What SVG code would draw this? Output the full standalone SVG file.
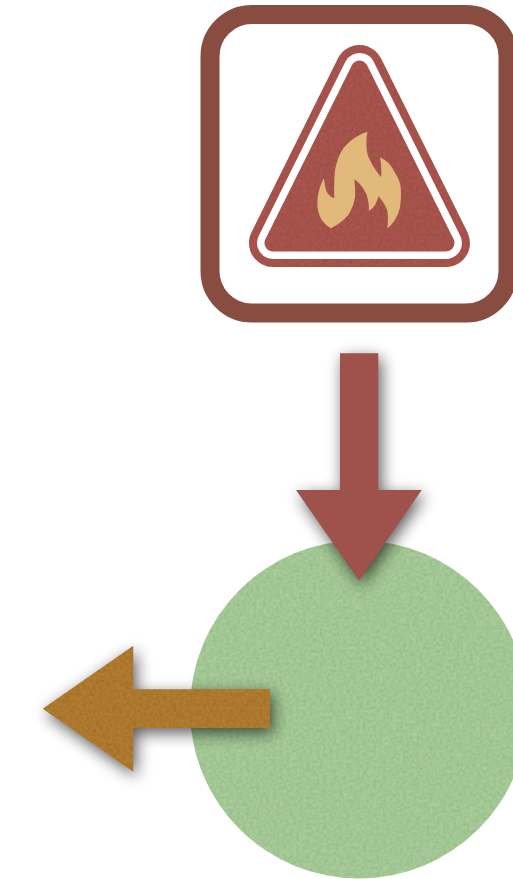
<svg xmlns="http://www.w3.org/2000/svg" width="513" height="879" viewBox="0 0 513 879">
<style>
.tri{stroke-linejoin:round}
</style>
<defs>
<filter id="tex" filterUnits="userSpaceOnUse" x="0" y="0" width="513" height="879" color-interpolation-filters="sRGB">
<feTurbulence type="fractalNoise" baseFrequency="0.3" numOctaves="3" seed="4" result="n"/>
<feColorMatrix in="n" type="matrix" values="0 0 0 0 0  0 0 0 0 0  0 0 0 0 0  0.16 0 0 0 -0.05" result="d"/>
<feGaussianBlur in="d" stdDeviation="0.6" result="db"/>
<feComposite in="db" in2="SourceAlpha" operator="in" result="dd"/>
<feMerge><feMergeNode in="SourceGraphic"/><feMergeNode in="dd"/></feMerge>
</filter>
<filter id="arrowfx" filterUnits="userSpaceOnUse" x="0" y="600" width="320" height="220" color-interpolation-filters="sRGB">
<feTurbulence type="fractalNoise" baseFrequency="0.3" numOctaves="3" seed="7" result="n"/>
<feColorMatrix in="n" type="matrix" values="0 0 0 0 0  0 0 0 0 0  0 0 0 0 0  0.22 0 0 0 -0.07" result="d"/>
<feGaussianBlur in="d" stdDeviation="0.6" result="db"/>
<feComposite in="db" in2="SourceAlpha" operator="in" result="dd"/>
<feGaussianBlur in="SourceAlpha" stdDeviation="8"/>
<feOffset dx="3" dy="5"/>
<feComponentTransfer result="sh"><feFuncA type="linear" slope="0.65"/></feComponentTransfer>
<feMerge><feMergeNode in="sh"/><feMergeNode in="SourceGraphic"/><feMergeNode in="dd"/></feMerge>
</filter>
<filter id="arrowfx2" filterUnits="userSpaceOnUse" x="250" y="310" width="220" height="320" color-interpolation-filters="sRGB">
<feGaussianBlur in="SourceAlpha" stdDeviation="8"/>
<feOffset dx="3" dy="5"/>
<feComponentTransfer result="sh"><feFuncA type="linear" slope="0.65"/></feComponentTransfer>
<feMerge><feMergeNode in="sh"/><feMergeNode in="SourceGraphic"/></feMerge>
</filter>
</defs>
<g id="node-pool">
<circle cx="359" cy="709.5" r="169" fill="#a8cd99" filter="url(#tex)"/>
</g>
<g id="node-hazard">
<rect x="210" y="14.5" width="298" height="298.5" rx="42" ry="42" fill="#fff" stroke="#894c40" stroke-width="19"/>
<path class="tri" d="M359.5 69L273 243H446Z" fill="#aa554d" stroke="#aa554d" stroke-width="48" filter="url(#tex)"/>
<path class="tri" d="M359.5 69L273 243H446Z" fill="#fff" stroke="#fff" stroke-width="32"/>
<path class="tri" d="M359.5 69L273 243H446Z" fill="#aa554d" stroke="#aa554d" stroke-width="17" filter="url(#tex)"/>
<path fill="#e0b97b" d="M367.3 131.7C366 142 365.5 152 370 160C373 167 377 172 381 177.3C382 171 381 164 380 157.3C387 161 391 165 393.3 170C398 177 401 183 401 192C401 201 400.5 208 398.3 213C395.5 220 392 225 387.3 228.3C388 222 388.5 216 387 210C385.5 205 382 200 378.3 196C378 199 376.5 202 375 205C373.5 207.5 371 209.5 369 211C369 206 368.5 200 366.7 195C364 189 360 183 354.3 179.3C355 185 355.5 191 355 197C354 204 351.5 210 348.3 215C343 221 337 225 331 228.3C327 226 324 223 321.7 220C318.5 214 317.3 209 317.3 203C317.5 194 320 185 324 178.3C324.5 183 325 187.5 326.7 191.7C328.5 195 331 197 334.3 198.3C334 189 334 179 335 170C336.5 162 339 155 343.3 148.3C350 140 358 135 367.3 131.7Z"/>
</g>
<g id="connectors">
<path id="arrow-down" d="M340 353.3H378.3V490H421.7L359 580.5L296 490H340Z" fill="#9f524b" filter="url(#arrowfx2)"/>
<path id="arrow-left" d="M270 689.3V728H133.3V771.7L42.7 708.7L133.3 645.7V689.3Z" fill="#b37d2f" filter="url(#arrowfx)"/>
</g>
</svg>
